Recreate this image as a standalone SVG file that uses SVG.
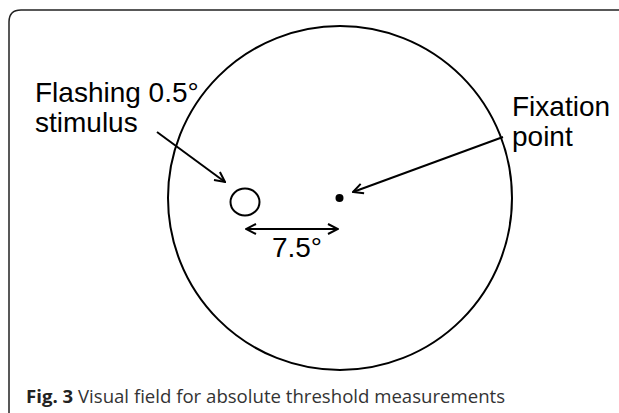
<svg xmlns="http://www.w3.org/2000/svg" width="619" height="413" viewBox="0 0 619 413">
<style>
.lbl{font-family:"Liberation Sans",Arial,sans-serif;font-size:28px;fill:#000}
.ln{stroke:#000;stroke-width:2;fill:none}
.cap{font-family:"Open Sans","Liberation Sans",sans-serif;font-size:18.6px;fill:#333}
</style>
<defs>
<marker id="ah" viewBox="0 0 12 12" refX="11" refY="6" markerWidth="12" markerHeight="12" markerUnits="userSpaceOnUse" orient="auto-start-reverse">
<path d="M1,1 L11,6 L1,11" fill="none" stroke="#000" stroke-width="2"/>
</marker>
</defs>
<rect width="619" height="413" fill="#fff"/>
<path d="M9,413 V22 Q9,10 21,10 H619" fill="none" stroke="#222" stroke-width="1.5"/>
<g id="field"><circle cx="340" cy="198" r="172" class="ln"/></g>
<g id="stimulus"><ellipse cx="245" cy="202" rx="14.5" ry="13.5" class="ln"/></g>
<g id="fixation"><circle cx="339.5" cy="198" r="4" fill="#000"/></g>
<g id="labels">
<text class="lbl" x="35" y="102">Flashing 0.5°</text>
<text class="lbl" x="35" y="132">stimulus</text>
<text class="lbl" x="512" y="116">Fixation</text>
<text class="lbl" x="512" y="146">point</text>
<text class="lbl" x="297" y="257" text-anchor="middle">7.5°</text>
</g>
<g id="connectors">
<line x1="157" y1="132" x2="225" y2="182" class="ln" marker-end="url(#ah)"/>
<line x1="503" y1="137" x2="353" y2="192" class="ln" marker-end="url(#ah)"/>
<line x1="246" y1="229" x2="338" y2="229" class="ln" marker-start="url(#ah)" marker-end="url(#ah)"/>
</g>
<text class="cap" x="26" y="403"><tspan font-weight="bold" fill="#222">Fig. 3</tspan> Visual field for absolute threshold measurements</text>
</svg>
